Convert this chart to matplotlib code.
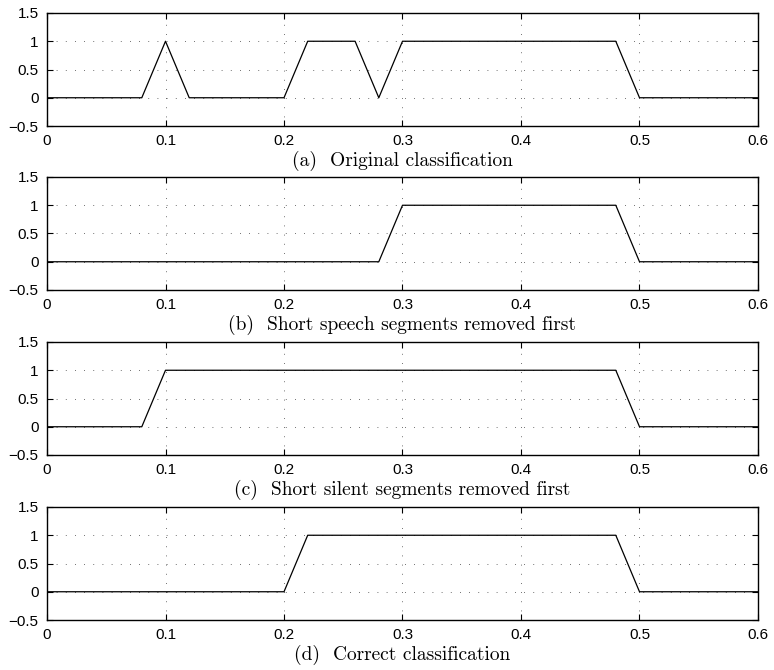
import matplotlib
matplotlib.use("Agg")
import matplotlib.pyplot as plt

# --- datos ---
x_a = [0, 0.08, 0.1, 0.12, 0.2, 0.22, 0.26, 0.28, 0.3, 0.48, 0.5, 0.6]
y_a = [0, 0, 1, 0, 0, 1, 1, 0, 1, 1, 0, 0]
x_b = [0, 0.28, 0.3, 0.48, 0.5, 0.6]
y_b = [0, 0, 1, 1, 0, 0]
x_c = [0, 0.08, 0.1, 0.48, 0.5, 0.6]
y_c = [0, 0, 1, 1, 0, 0]
x_d = [0, 0.2, 0.22, 0.48, 0.5, 0.6]
y_d = [0, 0, 1, 1, 0, 0]

captions = ["(a)  Original classification",
            "(b)  Short speech segments removed first",
            "(c)  Short silent segments removed first",
            "(d)  Correct classification"]
xticks = [0, 0.1, 0.2, 0.3, 0.4, 0.5, 0.6]
xlabels = ["0", "0.1", "0.2", "0.3", "0.4", "0.5", "0.6"]
yticks = [-0.5, 0, 0.5, 1, 1.5]
ylabels = ["\u22120.5", "0", "0.5", "1", "1.5"]

plt.rcParams['font.family'] = ['Liberation Sans', 'DejaVu Sans']

fig = plt.figure(figsize=(7.74, 6.70), dpi=100)
W, H = 774, 670
left, right = 47, 758
tops = [13, 177, 342, 507]
alto = 113

series = [(x_a, y_a), (x_b, y_b), (x_c, y_c), (x_d, y_d)]

for i, (xs, ys) in enumerate(series):
    ax = fig.add_axes([left / W, 1 - (tops[i] + alto) / H, (right - left) / W, alto / H])
    ax.plot(xs, ys, color='black', linewidth=0.9)
    ax.set_xlim(0, 0.6)
    ax.set_ylim(-0.5, 1.5)
    ax.set_xticks(xticks)
    ax.set_xticklabels(xlabels)
    ax.set_yticks(yticks)
    ax.set_yticklabels(ylabels)
    ax.tick_params(direction='in', top=True, right=True, length=4, width=0.8,
                   labelsize=11, pad=6)
    ax.grid(True, linestyle=(0, (1, 10)), color='0.25', linewidth=0.6)
    for s in ax.spines.values():
        s.set_linewidth(1.0)
    ax.set_xlabel(captions[i], family='cmr10', fontsize=14, labelpad=2)

fig.savefig("out.png", dpi=100)
